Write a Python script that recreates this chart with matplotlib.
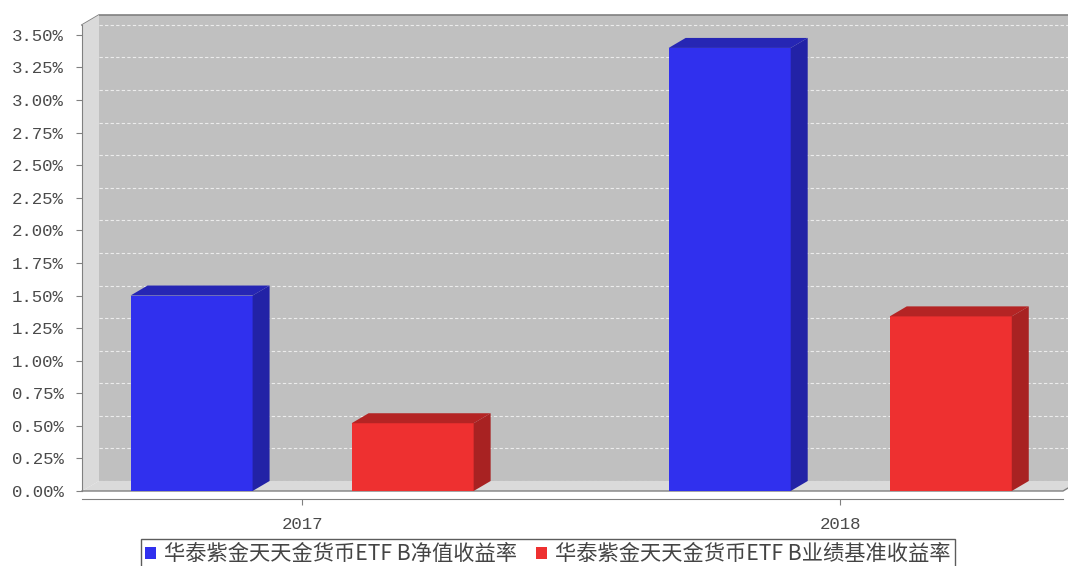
import numpy as np
import matplotlib.pyplot as plt
from matplotlib.patches import Polygon, Patch
from matplotlib.ticker import FuncFormatter

years = ['2017', '2018']
nav_return = [1.50, 3.40]      # 净值收益率 (%)
bench_return = [0.52, 1.34]    # 业绩基准收益率 (%)
series_names = ['华泰紫金天天金货币ETF B净值收益率', '华泰紫金天天金货币ETF B业绩基准收益率']
yticks = np.arange(0, 3.51, 0.25)

W, H = 1068, 566
fig = plt.figure(figsize=(W / 100, H / 100), dpi=100)
ax = fig.add_axes([82 / W, 1 - 491 / H, (1063 - 82) / W, (491 - 25) / H])

xl, xr = -0.409, 1.414
ymax = 3.576
ax.set_xlim(xl, xr)
ax.set_ylim(0, ymax)

# 3d depth offsets (pixels -> data units)
dx = 17 * (xr - xl) / (1063 - 82)
dy = 10 * ymax / (491 - 25)

x = np.arange(len(years))
bw = 0.2268
off = 0.2054

# back wall
ax.add_patch(Polygon([(xl + dx, dy), (xr + 0.2, dy), (xr + 0.2, ymax + dy), (xl + dx, ymax + dy)],
                     closed=True, fc='#c0c0c0', ec='none', zorder=0, clip_on=False))
ax.plot([xl, xl + dx, xr + 0.2], [ymax, ymax + dy, ymax + dy], color='#808080', lw=1.2,
        zorder=0.6, clip_on=False)
# left wall
ax.add_patch(Polygon([(xl, 0), (xl + dx, dy), (xl + dx, ymax + dy), (xl, ymax)],
                     closed=True, fc='#dadada', ec='none', zorder=1, clip_on=False))
# floor
ax.add_patch(Polygon([(xl, 0), (xr, 0), (xr + dx, dy), (xl + dx, dy)],
                     closed=True, fc='#dadada', ec='none', zorder=1, clip_on=False))
ax.plot([xl, xr, xr + dx], [0, 0, dy], color='#808080', lw=1.0, zorder=1.5, clip_on=False)

# gridlines on back wall
for t in yticks:
    ax.plot([xl + dx, xr + 0.2], [t + dy, t + dy], color='#ececec', lw=0.8,
            ls=(0, (3, 2)), zorder=0.5, clip_on=False)


def bar3d(xc, vals, face, side, top):
    bars = ax.bar(xc, vals, width=bw, color=face, lw=0, zorder=3)
    for b in bars:
        x0 = b.get_x()
        x1 = x0 + b.get_width()
        h = b.get_height()
        ax.add_patch(Polygon([(x1, 0), (x1 + dx, dy), (x1 + dx, h + dy), (x1, h)],
                             closed=True, fc=side, ec='none', zorder=3, clip_on=False))
        ax.add_patch(Polygon([(x0, h), (x1, h), (x1 + dx, h + dy), (x0 + dx, h + dy)],
                             closed=True, fc=top, ec='none', zorder=3, clip_on=False))


bar3d(x - off, nav_return, '#3030ee', '#2222a6', '#2626b4')
bar3d(x + off, bench_return, '#ee3030', '#a82222', '#b42424')

# axes styling
for s in ['top', 'right']:
    ax.spines[s].set_visible(False)
ax.spines['left'].set_color('#808080')
ax.spines['bottom'].set_color('#808080')
ax.spines['bottom'].set_position(('outward', 6))
ax.set_facecolor('none')

ax.set_yticks(yticks)
ax.yaxis.set_major_formatter(FuncFormatter(lambda v, p: '%.2f%%' % v))
ax.set_xticks(x)
ax.set_xticklabels(years)
ax.tick_params(axis='y', direction='out', length=4, color='#808080', pad=9,
               labelsize=12.5, labelcolor='#4a4a4a')
ax.tick_params(axis='x', direction='out', length=4, color='#808080', pad=9,
               labelsize=12.5, labelcolor='#4a4a4a')
for lab in ax.get_xticklabels() + ax.get_yticklabels():
    lab.set_fontfamily('Liberation Mono')

handles = [Patch(fc='#3030ee', ec='none'), Patch(fc='#ee3030', ec='none')]
leg = fig.legend(handles, series_names, loc='upper center', bbox_to_anchor=(548 / W, 1 - 539 / H),
                 ncol=2, frameon=True, fancybox=False, edgecolor='#333333',
                 prop={'family': ['Noto Sans CJK SC', 'DejaVu Sans'], 'size': 15.3},
                 handlelength=0.5, handleheight=0.5, handletextpad=0.4, columnspacing=0.9,
                 borderpad=0.2, borderaxespad=0)
leg.get_frame().set_linewidth(1.0)
for t in leg.get_texts():
    t.set_color('#444444')

fig.savefig('out.png', dpi=100)
